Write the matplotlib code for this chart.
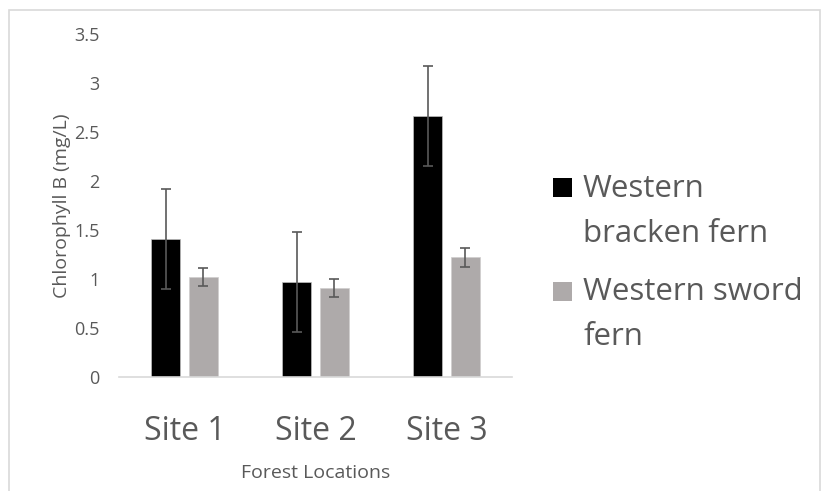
import matplotlib.pyplot as plt
import numpy as np
from matplotlib.patches import Rectangle

plt.rcParams['font.family'] = ['Open Sans', 'DejaVu Sans']

# Data
sites = ['Site 1', 'Site 2', 'Site 3']
bracken = [1.41, 0.97, 2.66]
bracken_err = [0.51, 0.51, 0.51]
sword = [1.02, 0.91, 1.22]
sword_err = [0.09, 0.09, 0.10]
series_labels = [['Western', 'bracken fern'], ['Western sword', 'fern']]
series_colors = ['black', '#AEAAAA']

text_col = '#595959'
grid_col = '#D9D9D9'
W, H = 821, 491

fig = plt.figure(figsize=(W / 100, H / 100), dpi=100)
ax = fig.add_axes([119 / W, 1 - 377 / H, 393 / W, 343 / H])

x = np.arange(len(sites))
w = 0.22
off = 0.143
err_kw = dict(ecolor=text_col, elinewidth=1.2, capsize=3.3, capthick=1.2)
ax.bar(x - off, bracken, w, yerr=bracken_err, color=series_colors[0],
       edgecolor='#BFBFBF', linewidth=0.5, error_kw=err_kw)
ax.bar(x + off, sword, w, yerr=sword_err, color=series_colors[1],
       edgecolor='#D0CECE', linewidth=0.5, error_kw=err_kw)

ax.set_xlim(-0.5, 2.5)
ax.set_ylim(0, 3.5)
ax.set_yticks(np.arange(0, 3.51, 0.5))
ax.set_yticklabels(['0', '0.5', '1', '1.5', '2', '2.5', '3', '3.5'])
ax.set_xticks(x)
ax.set_xticklabels(sites)

for s in ['top', 'right', 'left']:
    ax.spines[s].set_visible(False)
ax.spines['bottom'].set_color(grid_col)
ax.spines['bottom'].set_linewidth(1.2)

ax.tick_params(axis='y', length=0, pad=14, labelsize=13, labelcolor=text_col)
ax.tick_params(axis='x', length=0, pad=27, labelsize=23, labelcolor=text_col)

ax.set_ylabel('Chlorophyll B (mg/L)', fontsize=14, color=text_col, labelpad=2)
ax.set_xlabel('Forest Locations', fontsize=14, color=text_col, labelpad=12)

# Legend to the right, drawn by hand so the swatch sits on the first line
sw_top = [178, 282]
line_base = [[197, 242], [300, 345]]
for i, col in enumerate(series_colors):
    fig.patches.append(Rectangle((553 / W, 1 - (sw_top[i] + 19) / H), 19 / W, 19 / H,
                                 transform=fig.transFigure, facecolor=col,
                                 edgecolor='none'))
    for line, yb in zip(series_labels[i], line_base[i]):
        fig.text(583 / W, 1 - yb / H, line, fontsize=22.5, color=text_col,
                 ha='left', va='baseline')

# Outer chart-area border
fig.patches.append(Rectangle((9 / W, -0.02), 811 / W, 1 - 10 / H + 0.02,
                             transform=fig.transFigure, fill=False,
                             edgecolor=grid_col, linewidth=1.2))

fig.savefig('out.png', dpi=100)
